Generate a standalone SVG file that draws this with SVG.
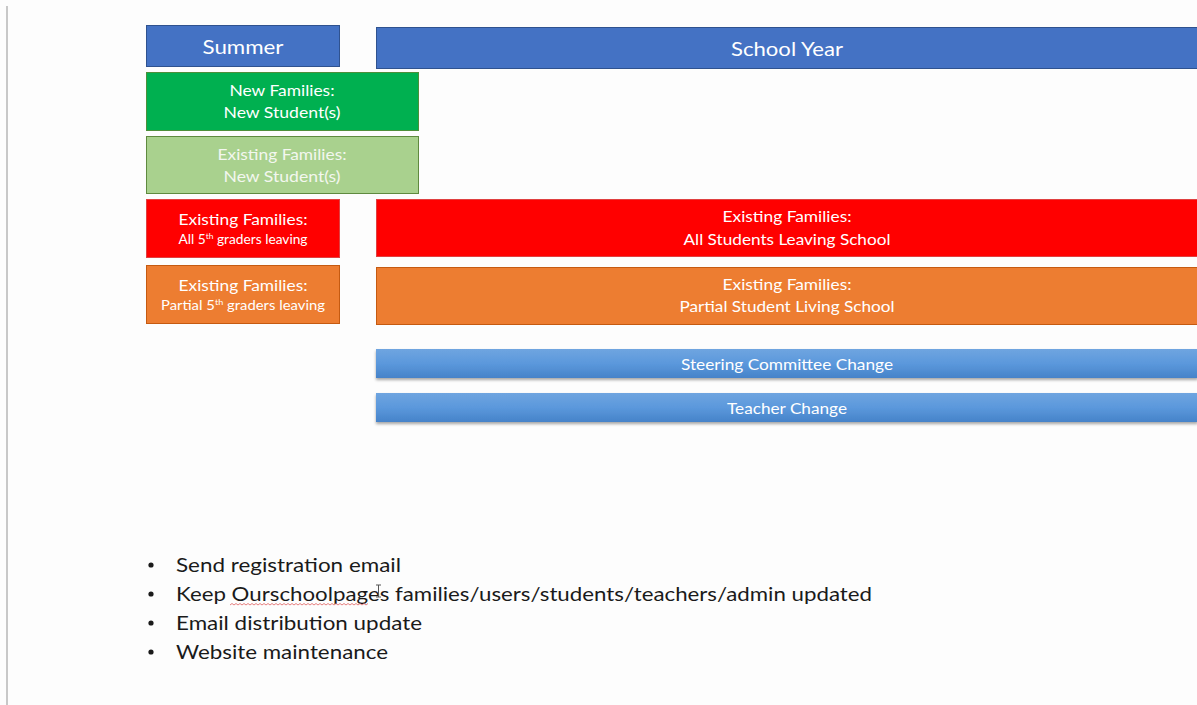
<svg xmlns="http://www.w3.org/2000/svg" width="1197" height="705" viewBox="0 0 1197 705">
<style>
.t{font-family:Lato,"Liberation Sans",sans-serif;fill:#ffffff;text-anchor:middle}
.h{font-size:20px}
.m{font-size:16px}
.s{font-size:13px}
.b{font-family:Lato,"Liberation Sans",sans-serif;font-size:20px;fill:#1a1a1a}
</style>
<defs>
<linearGradient id="bar" x1="0" y1="0" x2="0" y2="1">
<stop offset="0" stop-color="#6fa5e0"/>
<stop offset="0.5" stop-color="#5b98dc"/>
<stop offset="1" stop-color="#4683c9"/>
</linearGradient>
<filter id="sh" x="-5%" y="-30%" width="110%" height="180%">
<feDropShadow dx="0" dy="2" stdDeviation="1.5" flood-color="#000" flood-opacity="0.35"/>
</filter>
</defs>
<rect width="1197" height="705" fill="#fdfdfd"/>
<rect x="6" y="6" width="2" height="699" fill="#c8c8c8"/>

<g id="summer">
<rect x="146.5" y="25.5" width="193" height="41" fill="#4472c4" stroke="#2f528f"/>
<text class="t h" x="243" y="54" textLength="81" lengthAdjust="spacingAndGlyphs">Summer</text>
</g>
<g id="school-year">
<rect x="376.5" y="27.5" width="822" height="41" fill="#4472c4" stroke="#2f528f"/>
<text class="t h" x="787" y="56" textLength="112" lengthAdjust="spacingAndGlyphs">School Year</text>
</g>
<g id="new-families">
<rect x="146.5" y="72.5" width="272" height="58" fill="#00b050" stroke="#4d8f3a"/>
<text class="t m" x="282" y="96" textLength="105" lengthAdjust="spacingAndGlyphs">New Families:</text>
<text class="t m" x="282" y="118" textLength="117" lengthAdjust="spacingAndGlyphs">New Student(s)</text>
</g>
<g id="existing-new-students">
<rect x="146.5" y="136.5" width="272" height="57" fill="#a9d18e" stroke="#5f8a3f"/>
<text class="t m" x="282" y="160" textLength="129" lengthAdjust="spacingAndGlyphs" style="fill:#f3f7ef">Existing Families:</text>
<text class="t m" x="282" y="182" textLength="117" lengthAdjust="spacingAndGlyphs" style="fill:#f3f7ef">New Student(s)</text>
</g>
<g id="existing-all-5th">
<rect x="146.5" y="199.5" width="193" height="58" fill="#ff0000" stroke="#e04040"/>
<text class="t m" x="243" y="225" textLength="129" lengthAdjust="spacingAndGlyphs">Existing Families:</text>
<text class="t s" x="243" y="244" textLength="129" lengthAdjust="spacingAndGlyphs">All 5<tspan font-size="8" dy="-5">th</tspan><tspan dy="5"> graders leaving</tspan></text>
</g>
<g id="existing-partial-5th">
<rect x="146.5" y="265.5" width="193" height="58" fill="#ed7d31" stroke="#c55a11"/>
<text class="t m" x="243" y="291" textLength="129" lengthAdjust="spacingAndGlyphs">Existing Families:</text>
<text class="t s" x="243" y="310" textLength="164" lengthAdjust="spacingAndGlyphs">Partial 5<tspan font-size="8" dy="-5">th</tspan><tspan dy="5"> graders leaving</tspan></text>
</g>
<g id="all-students-leaving">
<rect x="376.5" y="199.5" width="822" height="57" fill="#ff0000" stroke="#e04040"/>
<text class="t m" x="787" y="222" textLength="129" lengthAdjust="spacingAndGlyphs">Existing Families:</text>
<text class="t m" x="787" y="245" textLength="207" lengthAdjust="spacingAndGlyphs">All Students Leaving School</text>
</g>
<g id="partial-student-leaving">
<rect x="376.5" y="267.5" width="822" height="57" fill="#ed7d31" stroke="#c55a11"/>
<text class="t m" x="787" y="290" textLength="129" lengthAdjust="spacingAndGlyphs">Existing Families:</text>
<text class="t m" x="787" y="312" textLength="215" lengthAdjust="spacingAndGlyphs">Partial Student Living School</text>
</g>
<g id="steering-committee">
<rect x="376" y="349" width="822" height="29" fill="url(#bar)" filter="url(#sh)"/>
<text class="t m" x="787" y="370" textLength="212" lengthAdjust="spacingAndGlyphs">Steering Committee Change</text>
</g>
<g id="teacher-change">
<rect x="376" y="393" width="822" height="29" fill="url(#bar)" filter="url(#sh)"/>
<text class="t m" x="787" y="414" textLength="120" lengthAdjust="spacingAndGlyphs">Teacher Change</text>
</g>
<g id="connectors"></g>

<g id="bullets">
<circle cx="151" cy="565" r="2.6" fill="#1a1a1a"/>
<circle cx="151" cy="594" r="2.6" fill="#1a1a1a"/>
<circle cx="151" cy="623" r="2.6" fill="#1a1a1a"/>
<circle cx="151" cy="652" r="2.6" fill="#1a1a1a"/>
<text class="b" x="176" y="572" textLength="225" lengthAdjust="spacingAndGlyphs">Send registration email</text>
<text class="b" x="176" y="601" textLength="696" lengthAdjust="spacingAndGlyphs">Keep Ourschoolpages families/users/students/teachers/admin updated</text>
<text class="b" x="176" y="630" textLength="246" lengthAdjust="spacingAndGlyphs">Email distribution update</text>
<text class="b" x="176" y="659" textLength="212" lengthAdjust="spacingAndGlyphs">Website maintenance</text>
<path d="M230 605 l2 -1.5 l2 1.5 l2 -1.5 l2 1.5 l2 -1.5 l2 1.5 l2 -1.5 l2 1.5 l2 -1.5 l2 1.5 l2 -1.5 l2 1.5 l2 -1.5 l2 1.5 l2 -1.5 l2 1.5 l2 -1.5 l2 1.5 l2 -1.5 l2 1.5 l2 -1.5 l2 1.5 l2 -1.5 l2 1.5 l2 -1.5 l2 1.5 l2 -1.5 l2 1.5 l2 -1.5 l2 1.5 l2 -1.5 l2 1.5 l2 -1.5 l2 1.5 l2 -1.5 l2 1.5 l2 -1.5 l2 1.5 l2 -1.5 l2 1.5 l2 -1.5 l2 1.5 l2 -1.5 l2 1.5 l2 -1.5 l2 1.5 l2 -1.5 l2 1.5 l2 -1.5 l2 1.5 l2 -1.5 l2 1.5 l2 -1.5 l2 1.5 l2 -1.5 l2 1.5 l2 -1.5 l2 1.5 l2 -1.5 l2 1.5 l2 -1.5 l2 1.5 l2 -1.5 l2 1.5 l2 -1.5 l2 1.5 l2 -1.5 l2 1.5 l2 -1.5" fill="none" stroke="#e06060" stroke-width="0.8"/>
<path d="M376 585 h5 M378.5 585 v12 M376 597 h5" fill="none" stroke="#555" stroke-width="1"/>
</g>
</svg>
